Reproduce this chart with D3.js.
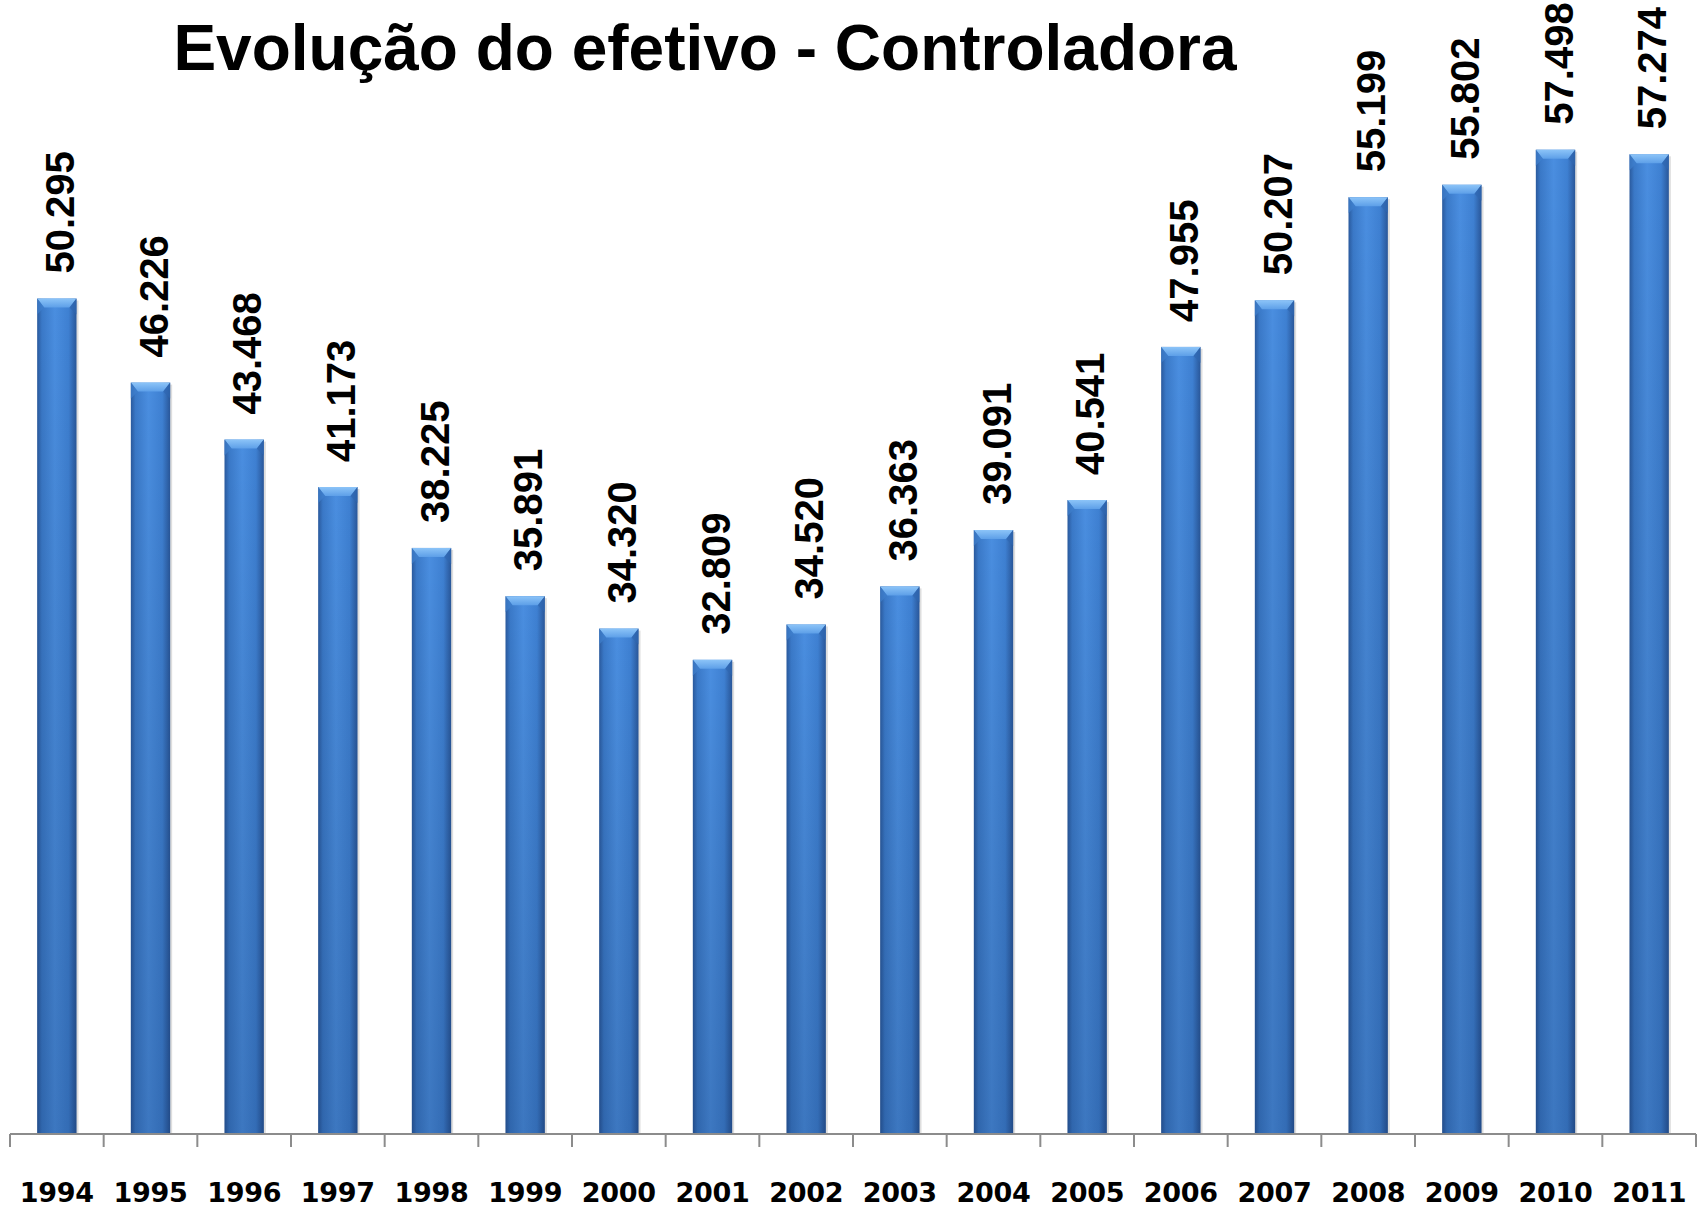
<!DOCTYPE html>
<html>
<head>
<meta charset="utf-8">
<script src="https://cdn.jsdelivr.net/npm/d3@7"></script>
<style>
  body { margin: 0; background: #fff; }
  svg { display: block; }
</style>
</head>
<body>
<div id="chart-area"></div>
<script>
// data
const years = ["1994", "1995", "1996", "1997", "1998", "1999", "2000", "2001", "2002",
  "2003", "2004", "2005", "2006", "2007", "2008", "2009", "2010", "2011"]
const headcount = [50295, 46226, 43468, 41173, 38225, 35891, 34320, 32809, 34520,
  36363, 39091, 40541, 47955, 50207, 55199, 55802, 57498, 57274]
const chartTitle = "Evolução do efetivo - Controladora"

const W = 1702, H = 1208
const AXIS_Y = 1134, LEFT = 10, RIGHT = 1696

const svg = d3.select("#chart-area").append("svg")
  .attr("width", W)
  .attr("height", H)

const defs = svg.append("defs")

const body = defs.append("linearGradient").attr("id", "barBody")
body.selectAll("stop")
  .data([[0, "#2a5a9e"], [0.12, "#3a79c8"], [0.45, "#4a8ee0"], [0.8, "#3e80d2"], [1, "#29579a"]])
  .enter().append("stop")
  .attr("offset", d => d[0])
  .attr("stop-color", d => d[1])

const shade = defs.append("linearGradient").attr("id", "barShade")
  .attr("x1", 0).attr("y1", 0).attr("x2", 0).attr("y2", 1)
shade.append("stop").attr("offset", 0).attr("stop-color", "#000").attr("stop-opacity", 0)
shade.append("stop").attr("offset", 1).attr("stop-color", "#001030").attr("stop-opacity", 0.18)

const cap = defs.append("linearGradient").attr("id", "barCap")
  .attr("x1", 0).attr("y1", 0).attr("x2", 0).attr("y2", 1)
cap.append("stop").attr("offset", 0).attr("stop-color", "#8cc4f8")
cap.append("stop").attr("offset", 1).attr("stop-color", "#5d9fe8")

// scales
const x = d3.scaleBand()
  .domain(years)
  .range([LEFT, RIGHT])
  .paddingInner(0.58)
  .paddingOuter(0.29)

const y = d3.scaleLinear()
  .domain([9860, 60000])
  .range([AXIS_Y, 98])

// title
svg.append("text")
  .attr("x", 705)
  .attr("y", 70)
  .attr("text-anchor", "middle")
  .attr("font-family", "Liberation Sans, Arial, sans-serif")
  .attr("font-weight", "bold")
  .attr("font-size", "64px")
  .attr("fill", "#000")
  .text(chartTitle)

const data = years.map((yr, i) => ({year: yr, value: headcount[i]}))

// bars
const bars = svg.append("g").selectAll("g.bar")
  .data(data)
  .enter().append("g")
  .attr("class", "bar")

// soft shadow
bars.append("rect")
  .attr("x", d => x(d.year) + 2)
  .attr("y", d => y(d.value) + 2)
  .attr("width", x.bandwidth())
  .attr("height", d => AXIS_Y - y(d.value) - 2)
  .attr("fill", "#c8c8c8")
  .attr("opacity", 0.6)

bars.append("rect")
  .attr("x", d => x(d.year))
  .attr("y", d => y(d.value))
  .attr("width", x.bandwidth())
  .attr("height", d => AXIS_Y - y(d.value))
  .attr("fill", "url(#barBody)")

bars.append("rect")
  .attr("x", d => x(d.year))
  .attr("y", d => y(d.value))
  .attr("width", x.bandwidth())
  .attr("height", d => AXIS_Y - y(d.value))
  .attr("fill", "url(#barShade)")

// bevelled top
bars.append("path")
  .attr("d", d => {
    const x0 = x(d.year), x1 = x0 + x.bandwidth(), t = y(d.value)
    return `M${x0},${t}L${x1},${t}L${x1 - 7},${t + 9}L${x0 + 7},${t + 9}Z`
  })
  .attr("fill", "url(#barCap)")

bars.append("path")
  .attr("d", d => {
    const x0 = x(d.year), t = y(d.value)
    return `M${x0},${t}L${x0 + 7},${t + 9}L${x0},${t + 16}Z`
  })
  .attr("fill", "#3f7fcc")
  .attr("opacity", 0.7)

bars.append("path")
  .attr("d", d => {
    const x1 = x(d.year) + x.bandwidth(), t = y(d.value)
    return `M${x1},${t}L${x1 - 7},${t + 9}L${x1},${t + 16}Z`
  })
  .attr("fill", "#2f66b0")
  .attr("opacity", 0.7)

// value labels
bars.append("text")
  .attr("transform", d => `translate(${x(d.year) + x.bandwidth() / 2 + 17}, ${y(d.value) - 25}) rotate(-90)`)
  .attr("font-family", "Liberation Sans, Arial, sans-serif")
  .attr("font-weight", "bold")
  .attr("font-size", "40px")
  .attr("fill", "#000")
  .text(d => d3.format(",")(d.value).replace(",", "."))

// x axis
const axisG = svg.append("g")
axisG.append("line")
  .attr("x1", LEFT).attr("x2", RIGHT)
  .attr("y1", AXIS_Y).attr("y2", AXIS_Y)
  .attr("stroke", "#8c8c8c")
  .attr("stroke-width", 2)

const step = x.step()
const boundaries = d3.range(years.length + 1).map(i => LEFT + i * step)
axisG.selectAll("line.tick")
  .data(boundaries)
  .enter().append("line")
  .attr("class", "tick")
  .attr("x1", d => d).attr("x2", d => d)
  .attr("y1", AXIS_Y).attr("y2", AXIS_Y + 13)
  .attr("stroke", "#8c8c8c")
  .attr("stroke-width", 2)

axisG.selectAll("text")
  .data(years)
  .enter().append("text")
  .attr("x", d => x(d) + x.bandwidth() / 2)
  .attr("y", 1202)
  .attr("text-anchor", "middle")
  .attr("font-family", "DejaVu Sans, Verdana, sans-serif")
  .attr("font-weight", "bold")
  .attr("font-size", "27px")
  .attr("letter-spacing", "-0.3px")
  .attr("fill", "#000")
  .text(d => d)
</script>
</body>
</html>
